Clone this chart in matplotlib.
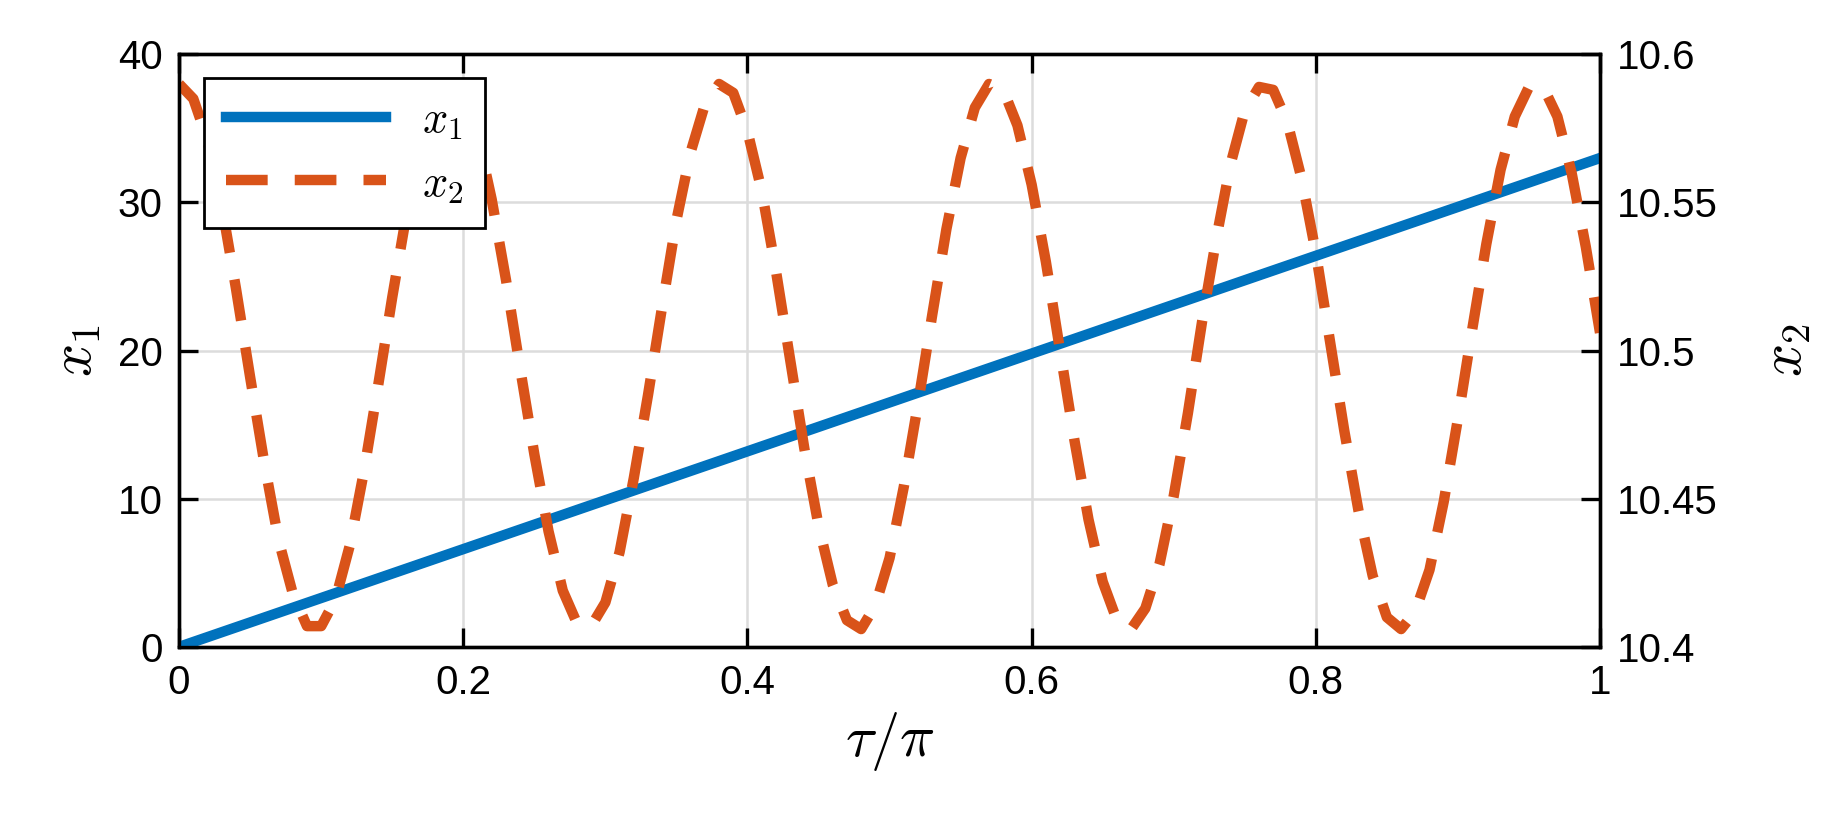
import matplotlib
matplotlib.use("Agg")
import matplotlib.pyplot as plt
import numpy as np

plt.rcParams['font.family'] = ['Liberation Sans', 'DejaVu Sans']
plt.rcParams['mathtext.fontset'] = 'cm'

t1 = [0.0, 1.0]
x1 = [0.0, 33.0]

t2 = [i / 100 for i in range(101)]
x2 = [10.590, 10.585, 10.571, 10.549, 10.521, 10.491, 10.462, 10.436, 10.418, 10.407,
      10.407, 10.416, 10.434, 10.459, 10.488, 10.518, 10.546, 10.569, 10.584, 10.590,
      10.586, 10.573, 10.551, 10.524, 10.494, 10.465, 10.439, 10.419, 10.408, 10.407,
      10.415, 10.432, 10.457, 10.485, 10.515, 10.544, 10.567, 10.583, 10.590, 10.587,
      10.574, 10.554, 10.527, 10.497, 10.467, 10.441, 10.421, 10.409, 10.406, 10.414,
      10.430, 10.454, 10.482, 10.512, 10.541, 10.565, 10.582, 10.590, 10.588, 10.576,
      10.556, 10.530, 10.500, 10.470, 10.443, 10.422, 10.409, 10.406, 10.413, 10.428,
      10.451, 10.479, 10.510, 10.538, 10.563, 10.581, 10.589, 10.588, 10.577, 10.558,
      10.533, 10.503, 10.473, 10.446, 10.424, 10.410, 10.406, 10.412, 10.426, 10.449,
      10.477, 10.507, 10.536, 10.561, 10.579, 10.589, 10.589, 10.579, 10.560, 10.535,
      10.506]

fig = plt.figure(figsize=(18.37, 8.23), dpi=100)
ax = fig.add_axes([0.0975, 0.214, 0.7735, 0.72])
ax2 = ax.twinx()

l1, = ax.plot(t1, x1, color='#0072BD', lw=7.5, label=r'$x_1$', zorder=3)
l2, = ax2.plot(t2, x2, color='#D95319', lw=7.5, dashes=(4, 2.6), label=r'$x_2$')

ax.set_xlim(0, 1)
ax.set_ylim(0, 40)
ax2.set_ylim(10.4, 10.6)
ax.set_xticks([0, 0.2, 0.4, 0.6, 0.8, 1])
ax.set_xticklabels(['0', '0.2', '0.4', '0.6', '0.8', '1'])
ax.set_yticks([0, 10, 20, 30, 40])
ax2.set_yticks([10.4, 10.45, 10.5, 10.55, 10.6])
ax2.set_yticklabels(['10.4', '10.45', '10.5', '10.55', '10.6'])
ax.grid(True, color='#dcdcdc', lw=1.8)
ax.set_axisbelow(True)
for a in (ax, ax2):
    a.tick_params(direction='in', length=14, width=2.4, labelsize=29, pad=12)
    for s in a.spines.values():
        s.set_linewidth(2.4)
ax.tick_params(top=True)
ax.set_xlabel(r'$\tau/\pi$', fontsize=42, labelpad=6)
ax.set_ylabel(r'$x_1$', fontsize=42, labelpad=10)
ax2.set_ylabel(r'$x_2$', fontsize=42, labelpad=30)

leg = ax2.legend(handles=[l1, l2], loc='upper left', fontsize=32, fancybox=False,
                 edgecolor='black', framealpha=1, handlelength=3.6,
                 borderaxespad=0.4, bbox_to_anchor=(0.005, 0.99), borderpad=0.5)
leg.get_frame().set_linewidth(2.0)

fig.savefig('out.png', dpi=100)
